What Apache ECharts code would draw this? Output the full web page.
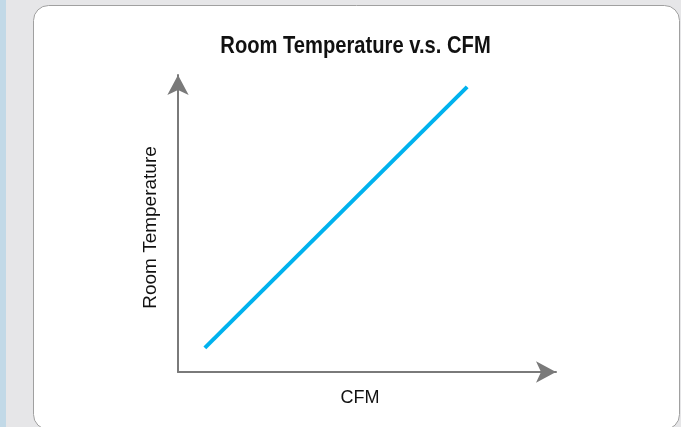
<!DOCTYPE html>
<html>
<head>
<meta charset="utf-8">
<script src="https://cdn.jsdelivr.net/npm/echarts@6/dist/echarts.min.js"></script>
<style>
  html, body { margin: 0; padding: 0; }
  #main { width: 681px; height: 427px; }
</style>
</head>
<body>
<div id="main"></div>
<script>
var titleText = 'Room Temperature v.s. CFM';
var xName = 'CFM';
var yName = 'Room Temperature';
// two ends of the straight line
var cfm = [7.1, 76.5];
var roomTemp = [8.1, 96.0];

var chart = echarts.init(document.getElementById('main'));

var points = [];
cfm.forEach(function (c, i) {
    points.push([c, roomTemp[i]]);
});

var axisColor = '#7a7a7a';

var option = {
    backgroundColor: '#e6e6e8',
    animation: false,
    graphic: [
        { type: 'rect', z: -10, shape: { x: 0, y: 0, width: 6, height: 427 }, style: { fill: '#c2d9e7' } },
        {
            type: 'rect', z: -10,
            shape: { x: 33.5, y: 5.5, width: 646, height: 424, r: 15 },
            style: { fill: '#ffffff', stroke: '#a0a0a0', lineWidth: 1 }
        },
        {
            // title, squeezed a little to look like the condensed face
            type: 'text',
            x: 355.5,
            y: 34,
            scaleX: 0.84,
            style: {
                text: titleText,
                align: 'center',
                verticalAlign: 'top',
                font: 'bold 24px "Liberation Sans", sans-serif',
                fill: '#111'
            }
        }
    ],
    grid: { left: 178, right: 125, top: 75, bottom: 55 },
    xAxis: {
        type: 'value',
        min: 0,
        max: 100,
        name: xName,
        nameLocation: 'middle',
        nameGap: 17,
        nameTextStyle: {
            fontFamily: 'Liberation Sans, sans-serif',
            fontSize: 18,
            color: '#111',
            padding: [0, 14, 0, 0]
        },
        axisLine: {
            symbol: ['none', 'arrow'],
            symbolSize: [16, 20],
            lineStyle: { color: axisColor, width: 2 }
        },
        axisTick: { show: false },
        axisLabel: { show: false },
        splitLine: { show: false }
    },
    yAxis: {
        type: 'value',
        min: 0,
        max: 100,
        name: yName,
        nameLocation: 'middle',
        nameRotate: 90,
        nameGap: 18,
        nameTextStyle: {
            fontFamily: 'Liberation Sans, sans-serif',
            fontSize: 19,
            color: '#111',
            padding: [0, 8, 0, 0]
        },
        axisLine: {
            show: true,
            symbol: ['none', 'arrow'],
            symbolSize: [16, 20],
            lineStyle: { color: axisColor, width: 2 }
        },
        axisTick: { show: false },
        axisLabel: { show: false },
        splitLine: { show: false }
    },
    series: [
        {
            type: 'line',
            data: points,
            showSymbol: false,
            lineStyle: { color: '#00b2ee', width: 4 }
        }
    ]
};
chart.setOption(option);
</script>
</body>
</html>
